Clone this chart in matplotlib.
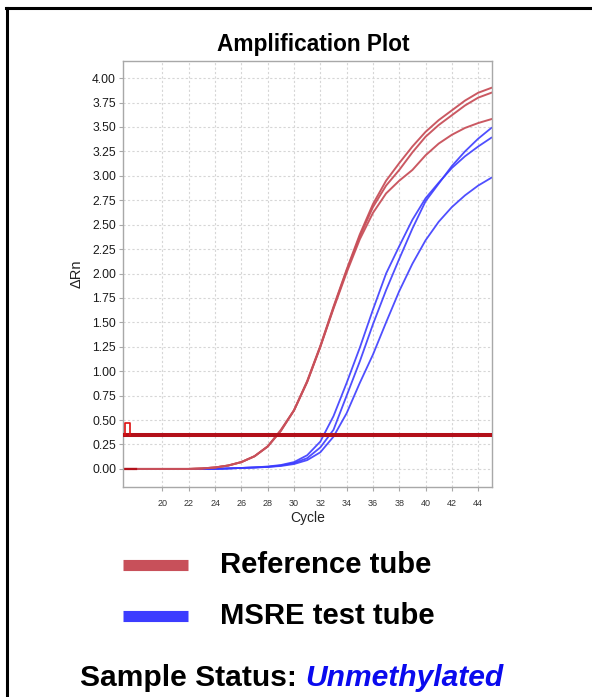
import matplotlib
matplotlib.use("Agg")
import matplotlib.pyplot as plt
from matplotlib import font_manager
from matplotlib.lines import Line2D
import numpy as np

# ---------------- data ----------------
cycles = list(range(17, 46))
ref_tube_1 = [0, 0, 0, 0, 0, 0, 0.005, 0.015, 0.035, 0.07, 0.13, 0.23, 0.40, 0.60, 0.90,
              1.26, 1.66, 2.04, 2.40, 2.71, 2.95, 3.13, 3.30, 3.45, 3.57, 3.67, 3.77, 3.85, 3.90]
ref_tube_2 = [0, 0, 0, 0, 0, 0, 0.005, 0.015, 0.035, 0.07, 0.13, 0.23, 0.39, 0.60, 0.89,
              1.25, 1.65, 2.03, 2.38, 2.68, 2.90, 3.06, 3.24, 3.40, 3.52, 3.62, 3.72, 3.80, 3.85]
ref_tube_3 = [0, 0, 0, 0, 0, 0, 0.005, 0.015, 0.035, 0.07, 0.13, 0.23, 0.39, 0.60, 0.89,
              1.25, 1.64, 2.01, 2.35, 2.62, 2.82, 2.95, 3.06, 3.21, 3.33, 3.42, 3.49, 3.54, 3.58]
msre_tube_1 = [0, 0, 0, 0, 0, 0, 0, 0, 0.005, 0.01, 0.015, 0.025, 0.04, 0.07, 0.14,
               0.28, 0.54, 0.88, 1.24, 1.63, 2.00, 2.28, 2.55, 2.77, 2.93, 3.08, 3.20, 3.30, 3.39]
msre_tube_2 = [0, 0, 0, 0, 0, 0, 0, 0, 0.005, 0.01, 0.015, 0.02, 0.035, 0.06, 0.11,
               0.22, 0.40, 0.75, 1.10, 1.48, 1.83, 2.15, 2.46, 2.74, 2.92, 3.10, 3.25, 3.38, 3.49]
msre_tube_3 = [0, 0, 0, 0, 0, 0, 0, 0, 0.005, 0.01, 0.015, 0.02, 0.03, 0.05, 0.09,
               0.17, 0.33, 0.57, 0.88, 1.17, 1.50, 1.82, 2.10, 2.34, 2.53, 2.68, 2.80, 2.90, 2.98]
threshold = 0.35
x_ticks = list(range(20, 46, 2))
y_ticks = [0.0, 0.25, 0.5, 0.75, 1.0, 1.25, 1.5, 1.75, 2.0, 2.25, 2.5, 2.75, 3.0, 3.25, 3.5, 3.75, 4.0]
legend_labels = ["Reference tube", "MSRE test tube"]
status_prefix = "Sample Status: "
status_value = "Unmethylated"

# ---------------- style ----------------
W, H = 592, 697
DPI = 100
RED = "#c8505a"
BLUE = "#3c3cff"
THR = "#b3101a"
plt.rcParams['font.family'] = ['Liberation Sans', 'DejaVu Sans']

fig = plt.figure(figsize=(W / DPI, H / DPI), dpi=DPI)
fig.patch.set_facecolor("white")

def fx(px):
    return px / W

def fy(py):
    return 1 - py / H

ax = fig.add_axes([fx(123), fy(487), fx(492) - fx(123), fy(61) - fy(487)])
ax.set_xlim(17, 45.05)
ax.set_ylim(-0.185, 4.175)

for s in ax.spines.values():
    s.set_color("#a8a8a8")
    s.set_linewidth(1.0)

ax.set_xticks(x_ticks)
ax.set_yticks(y_ticks)
ax.set_yticklabels([f"{v:.2f}" for v in y_ticks], fontsize=8.7, color="#1a1a1a")
ax.set_xticklabels([str(v) for v in x_ticks], fontsize=6.5, color="#333333")
ax.tick_params(axis='both', direction='out', color="#a8a8a8", length=3, width=0.8)
ax.tick_params(axis='y', pad=2)
ax.tick_params(axis='x', pad=6)
ax.grid(True, color="#d6d6d6", linestyle=(0, (2, 2)), linewidth=0.8)
ax.set_axisbelow(True)

ax.set_xlabel("Cycle", fontsize=10, color="#222222", labelpad=2)
ax.set_ylabel("\u0394Rn", fontsize=10.5, color="#222222", labelpad=6)

for vals in (msre_tube_1, msre_tube_2, msre_tube_3):
    ax.plot(cycles, vals, color=BLUE, lw=1.3, alpha=0.9, solid_joinstyle='round')
for vals in (ref_tube_1, ref_tube_2, ref_tube_3):
    ax.plot(cycles, vals, color=RED, lw=1.4, alpha=0.95, solid_joinstyle='round')

# baseline marker and threshold line with its handle
ax.plot([cycles[0], cycles[1]], [0, 0], color=THR, lw=1.6)
ax.axhline(threshold, color=THR, lw=2.9, zorder=5)
ax.plot([17.15, 17.15, 17.55, 17.55], [threshold, threshold + 0.12, threshold + 0.12, threshold],
        color="#dd1111", lw=1.2, zorder=6, clip_on=False)

# title
fig.text(fx(313), fy(45), "Amplification Plot", fontsize=16.3, fontweight='bold',
         ha='center', va='center', color="black")

# legend (manual)
fig.add_artist(Line2D([fx(123), fx(188)], [fy(565), fy(565)], color=RED, lw=8,
                      solid_capstyle='butt'))
fig.add_artist(Line2D([fx(123), fx(188)], [fy(616), fy(616)], color=BLUE, lw=8,
                      solid_capstyle='butt'))
fig.text(fx(220), fy(565), legend_labels[0], fontsize=21.1, fontweight='bold',
         ha='left', va='center')
fig.text(fx(220), fy(616), legend_labels[1], fontsize=21.1, fontweight='bold',
         ha='left', va='center')

# status line
names = {f.name for f in font_manager.fontManager.ttflist}
if 'Liberation Sans Narrow' in names:
    sfam, ssize = ['Liberation Sans Narrow', 'Liberation Sans'], 26.5
else:
    sfam, ssize = ['Liberation Sans', 'DejaVu Sans'], 21.6
t1 = fig.text(fx(80), fy(678), status_prefix, fontsize=ssize, fontweight='bold',
              family=sfam, ha='left', va='center', color='black')
ax.annotate(status_value, xy=(1, 0.5), xycoords=t1, xytext=(0, 0), textcoords='offset points',
            fontsize=ssize, fontweight='bold', fontstyle='italic', family=sfam,
            ha='left', va='center', color='#0a0aee', annotation_clip=False)

# outer border (left and top)
fig.add_artist(Line2D([fx(6.5), fx(6.5)], [fy(8), 0], color='black', lw=2.2))
fig.add_artist(Line2D([fx(5.5), 1], [fy(8), fy(8)], color='black', lw=2.2))

fig.savefig("out.png", dpi=DPI, facecolor="white")
